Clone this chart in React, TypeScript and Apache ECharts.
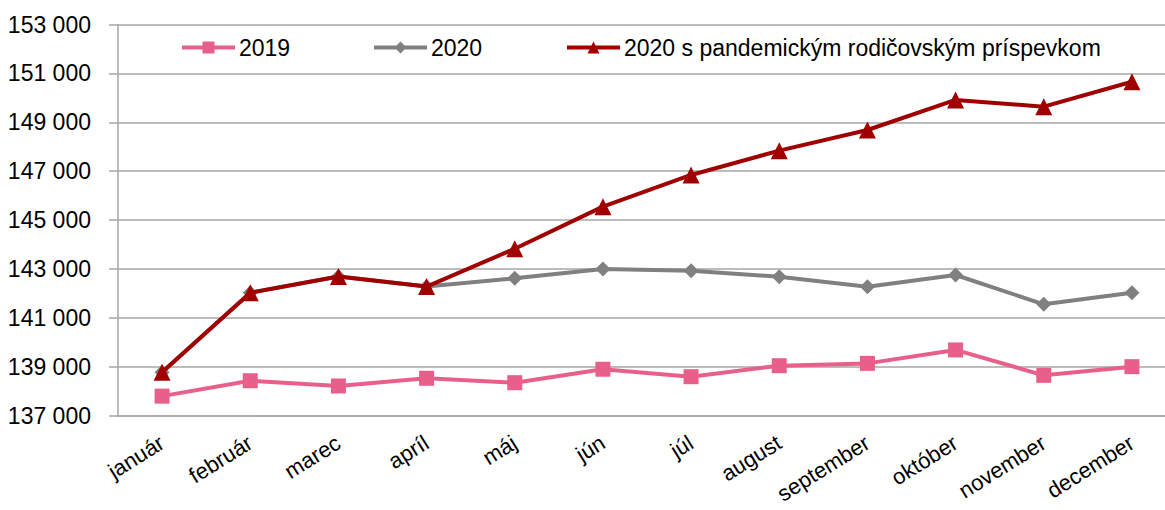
import React, { useEffect, useRef } from "react";
import * as echarts from "echarts";

const months = ["január", "február", "marec", "apríl", "máj", "jún", "júl", "august", "september", "október", "november", "december"];
const s2019 = [137800, 138430, 138215, 138530, 138350, 138900, 138595, 139045, 139140, 139690, 138650, 139005];
const s2020 = [138780, 142030, 142690, 142280, 142620, 143000, 142930, 142685, 142275, 142755, 141555, 142030];
const sPand = [138780, 142030, 142690, 142280, 143830, 145550, 146845, 147840, 148685, 149915, 149640, 150660];
const names = ["2019", "2020", "2020 s pandemickým rodičovským príspevkom"];
const yTicks = { min: 137000, max: 153000, step: 2000 };

const FONT = "'Liberation Sans', Arial, sans-serif";

export default function App() {
  const ref = useRef<HTMLDivElement>(null);
  useEffect(() => {
    if (!ref.current) return;
    const chart = echarts.init(ref.current, undefined, { renderer: "svg" });
    const colors = ["#E8608A", "#808080", "#A00000"];
    const symbols = ["rect", "diamond", "triangle"];
    const sizes = [15, 15, 17];
    const dataSets = [s2019, s2020, sPand];
    const legendLefts = [180, 372, 565];
    chart.setOption({
      animation: false,
      textStyle: { fontFamily: FONT },
      grid: { left: 118, right: -11, top: 24.5, bottom: 94.3, containLabel: false, outerBoundsMode: "none" },
      legend: names.map((n, i) => ({
        data: [n],
        left: legendLefts[i],
        top: 36,
        padding: 0,
        itemWidth: 53,
        itemHeight: 15,
        itemGap: 6,
        lineStyle: { width: 4 },
        textStyle: { fontFamily: FONT, fontSize: 23, color: "#000", padding: [0, 0, 0, -1] },
      })),
      xAxis: {
        type: "category",
        data: months,
        boundaryGap: true,
        axisLine: { lineStyle: { color: "#A6A6A6", width: 1.5 } },
        axisTick: { length: 8, lineStyle: { color: "#A6A6A6", width: 1.5 } },
        axisLabel: { rotate: 32, fontSize: 22, color: "#000", margin: 25, fontFamily: FONT, interval: 0 },
      },
      yAxis: {
        type: "value",
        min: yTicks.min,
        max: yTicks.max,
        interval: yTicks.step,
        axisLine: { show: true, lineStyle: { color: "#A6A6A6", width: 1.5 } },
        axisTick: { show: true, length: 9, lineStyle: { color: "#A6A6A6", width: 1.5 } },
        splitLine: { lineStyle: { color: "#A6A6A6", width: 1.5 } },
        axisLabel: {
          fontSize: 23,
          color: "#000",
          margin: 27,
          fontFamily: FONT,
          formatter: (v: number) => String(v).replace(/\B(?=(\d{3})+(?!\d))/g, " "),
        },
      },
      series: dataSets.map((d, i) => ({
        name: names[i],
        type: "line",
        data: d,
        symbol: symbols[i],
        symbolSize: sizes[i],
        z: i + 2,
        lineStyle: { color: colors[i], width: 4 },
        itemStyle: { color: colors[i] },
      })),
    });
    return () => chart.dispose();
  }, []);
  return <div ref={ref} style={{ position: "absolute", left: 0, top: 0, width: 1165, height: 510 }} />;
}
